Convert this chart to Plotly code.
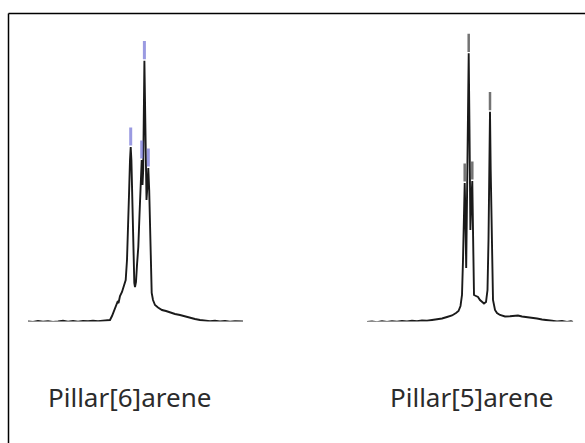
import plotly.graph_objects as go

W, H = 585, 443

# Pillar[6]arene spectrum: shift position (arbitrary units) and intensity
p6_shift = [0, 5, 10, 15, 20, 25, 30, 35, 40, 45, 50, 55, 60, 65, 70, 75, 80, 82,
            84, 86, 88, 89.5, 90.5, 92, 94, 96, 97.7, 99, 100, 101, 102, 102.7, 103.4,
            104.3, 105.3, 106.3, 107, 108, 109, 110.3, 111.5, 112.5, 113.7, 114.5,
            115.2, 116.4, 117.5, 118.5, 119.5, 120.3, 121.2, 122, 122.8, 123.7, 125,
            127, 130, 134, 138, 142, 147, 152, 157, 162, 167, 172, 177, 182, 187,
            192, 197, 202, 207, 212, 215]
p6_int = [0, -0.5, 0.5, -0.3, 0.3, -0.5, 0, 0.7, -0.1, 0.5, -0.3, 0.6, 0.2, 0.8, 0.3,
          0.9, 1, 1.5, 5.5, 10.5, 15.5, 19.5, 18.5, 25.5, 29.5, 36.5, 41.5, 61.5, 86.5,
          126.5, 161.5, 174.5, 161.5, 111.5, 61.5, 38.5, 34.5, 39.5, 56.5, 74.5, 106.5,
          141.5, 161.5, 136.5, 151.5, 260.8, 161.5, 121.5, 136.5, 153.5, 131.5, 86.5,
          46.5, 28.5, 21.5, 16.5, 14, 11.5, 10.5, 9, 7.5, 6.5, 5, 3.5, 2.5, 1.5, 1,
          0.2, 0.7, 0, 0.5, -0.2, 0.3, -0.3, 0]
p6_peak_shift = [102.7, 113.7, 116.4, 120.3]
p6_peak_int = [174.5, 161.5, 260.8, 153.5]

# Pillar[5]arene spectrum
p5_shift = [0, 5, 10, 15, 20, 25, 30, 35, 40, 45, 50, 55, 60, 65, 70, 75, 80, 85, 89,
            91.5, 93.5, 95, 96, 97, 97.7, 98.4, 99.2, 100, 100.8, 101.7, 102.5, 103.4,
            104.3, 105.3, 106, 106.6, 107, 109, 111, 113, 115, 117, 119, 120.5, 121.5,
            122.3, 123, 123.7, 124.7, 126, 128, 130, 133, 138, 143, 148, 151, 155, 160,
            165, 170, 175, 180, 185, 190, 195, 200, 204, 206]
p5_int = [-0.5, 0, -0.7, 0.2, -0.4, 0.3, -0.3, 0.5, 0, 0.7, 0.3, 1, 0.8, 1.5, 2, 3,
          4.5, 6, 8.5, 10.5, 15.5, 26.5, 61.5, 111.5, 138.5, 106.5, 53.5, 121.5, 201.5,
          268.2, 191.5, 91.5, 121.5, 140.5, 91.5, 41.5, 26.5, 25.5, 24.5, 21.5, 19.5,
          18, 19.5, 31.5, 81.5, 151.5, 209.8, 151.5, 71.5, 21.5, 11.5, 8.5, 6.5, 5,
          5.2, 6, 6, 5, 4.5, 3.5, 3, 2, 1, 0.7, 0, 0.5, -0.5, 0.2, -0.3]
p5_peak_shift = [97.7, 101.7, 105.3, 123]
p5_peak_int = [138.5, 268.2, 140.5, 209.8]

labels = ["Pillar[6]arene", "Pillar[5]arene"]

# layout geometry (pixels)
base_px = 321.5
top_px = 21.5
y_span = base_px - top_px
left_dom = (28, 243)
right_dom = (367, 575)
marker_gap = 10.5

fig = go.Figure()
line_style = dict(color="#1a1a1a", width=1.9)

fig.add_trace(go.Scatter(x=p6_shift, y=p6_int, mode="lines", line=line_style,
                         xaxis="x", yaxis="y", hoverinfo="skip"))
fig.add_trace(go.Scatter(x=p6_peak_shift, y=[v + marker_gap for v in p6_peak_int],
                         mode="markers", xaxis="x", yaxis="y", hoverinfo="skip",
                         marker=dict(symbol="line-ns", size=13,
                                     line=dict(width=3, color="rgba(120,120,215,0.75)"))))
fig.add_trace(go.Scatter(x=p5_shift, y=p5_int, mode="lines", line=line_style,
                         xaxis="x2", yaxis="y", hoverinfo="skip"))
fig.add_trace(go.Scatter(x=p5_peak_shift, y=[v + marker_gap for v in p5_peak_int],
                         mode="markers", xaxis="x2", yaxis="y", hoverinfo="skip",
                         marker=dict(symbol="line-ns", size=13,
                                     line=dict(width=2.5, color="rgba(80,80,80,0.8)"))))

ax_common = dict(visible=False, showgrid=False, zeroline=False, fixedrange=True)
fig.update_layout(
    width=W, height=H, margin=dict(l=0, r=0, t=0, b=0),
    paper_bgcolor="white", plot_bgcolor="rgba(0,0,0,0)", showlegend=False,
    xaxis=dict(domain=[left_dom[0] / W, left_dom[1] / W],
               range=[0, left_dom[1] - left_dom[0]], **ax_common),
    xaxis2=dict(domain=[right_dom[0] / W, right_dom[1] / W],
                range=[0, right_dom[1] - right_dom[0]], anchor="y", **ax_common),
    yaxis=dict(domain=[1 - base_px / H, 1 - top_px / H], range=[0, y_span], **ax_common),
)

# frame (left and top edges visible; others run off the image)
fig.add_shape(type="line", xref="paper", yref="paper",
              x0=8.5 / W, x1=8.5 / W, y0=-0.1, y1=1 - 13.5 / H,
              line=dict(color="black", width=1.5))
fig.add_shape(type="line", xref="paper", yref="paper",
              x0=8.5 / W, x1=1.1, y0=1 - 13.5 / H, y1=1 - 13.5 / H,
              line=dict(color="black", width=1.5))

for lab, cx in zip(labels, [129, 471]):
    fig.add_annotation(text=lab, xref="paper", yref="paper", x=cx / W, y=1 - 397 / H,
                       showarrow=False, xanchor="center", yanchor="middle",
                       font=dict(family="Noto Sans", size=26, color="#2b2b2b"))

fig.write_html("out.html")
